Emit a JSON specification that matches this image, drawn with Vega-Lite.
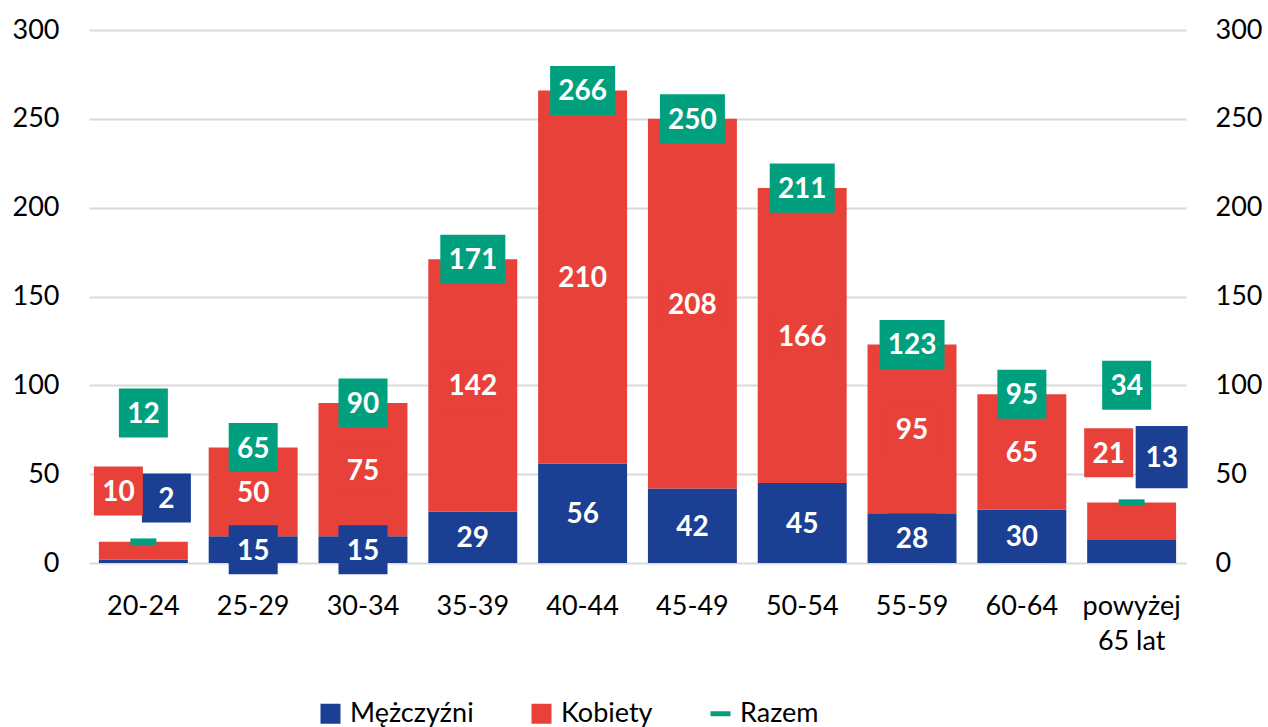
{
  "$schema": "https://vega.github.io/schema/vega-lite/v6.json",
  "width": 1097,
  "height": 533,
  "autosize": {"type": "none"},
  "padding": {"left": 89, "top": 30, "right": 82, "bottom": 164},
  "config": {"font": "Lato", "view": {"stroke": null}},
  "data": {
    "values": [
      {"grupa": "20-24", "Mężczyźni": 2, "Kobiety": 10, "Razem": 12},
      {"grupa": "25-29", "Mężczyźni": 15, "Kobiety": 50, "Razem": 65},
      {"grupa": "30-34", "Mężczyźni": 15, "Kobiety": 75, "Razem": 90},
      {"grupa": "35-39", "Mężczyźni": 29, "Kobiety": 142, "Razem": 171},
      {"grupa": "40-44", "Mężczyźni": 56, "Kobiety": 210, "Razem": 266},
      {"grupa": "45-49", "Mężczyźni": 42, "Kobiety": 208, "Razem": 250},
      {"grupa": "50-54", "Mężczyźni": 45, "Kobiety": 166, "Razem": 211},
      {"grupa": "55-59", "Mężczyźni": 28, "Kobiety": 95, "Razem": 123},
      {"grupa": "60-64", "Mężczyźni": 30, "Kobiety": 65, "Razem": 95},
      {"grupa": "powyżej 65 lat", "Mężczyźni": 13, "Kobiety": 21, "Razem": 34}
    ]
  },
  "resolve": {"axis": {"y": "independent"}, "scale": {"y": "shared"}},
  "encoding": {
    "x": {
      "field": "grupa",
      "type": "nominal",
      "sort": null,
      "title": null,
      "scale": {"paddingInner": 0.19, "paddingOuter": 0.09},
      "axis": {
        "domain": false,
        "ticks": false,
        "tickSize": 0,
        "labelPadding": 30,
        "labelFontSize": 27,
        "labelColor": "#000000",
        "labelAngle": 0,
        "labelLineHeight": 35,
        "labelExpr": "datum.value == 'powyżej 65 lat' ? ['powyżej', '65 lat'] : datum.value"
      }
    }
  },
  "layer": [
    {
      "transform": [{"fold": ["Mężczyźni", "Kobiety"], "as": ["seria", "wartosc"]}],
      "mark": {"type": "bar"},
      "encoding": {
        "y": {
          "field": "wartosc",
          "type": "quantitative",
          "stack": "zero",
          "scale": {"domain": [0, 300], "nice": false},
          "axis": {
            "orient": "left",
            "values": [0, 50, 100, 150, 200, 250, 300],
            "grid": true,
            "gridColor": "#d9d9d9",
            "gridWidth": 2,
            "domain": false,
            "ticks": false,
            "tickSize": 0,
            "labelPadding": 30,
            "labelFontSize": 27,
            "labelColor": "#000000",
            "title": null
          }
        },
        "color": {
          "field": "seria",
          "type": "nominal",
          "scale": {"domain": ["Mężczyźni", "Kobiety", "Razem"], "range": ["#1b3f92", "#e8413a", "#00a07f"]},
          "legend": {
            "orient": "none",
            "legendX": 228,
            "legendY": 670,
            "direction": "horizontal",
            "title": null,
            "labelFontSize": 27,
            "labelColor": "#000000",
            "symbolSize": 400,
            "columnPadding": 54,
            "labelOffset": 6,
            "symbolStrokeWidth": 0
          }
        },
        "order": {"field": "seria", "sort": "descending"}
      }
    },
    {
      "transform": [{"fold": ["Razem"], "as": ["seria", "wartosc"]}],
      "mark": {"type": "point", "filled": true, "size": 676, "opacity": 1},
      "encoding": {
        "y": {
          "field": "wartosc",
          "type": "quantitative",
          "axis": {
            "orient": "right",
            "values": [0, 50, 100, 150, 200, 250, 300],
            "grid": false,
            "domain": false,
            "ticks": false,
            "tickSize": 0,
            "labelPadding": 29,
            "labelFontSize": 27,
            "labelColor": "#000000",
            "title": null
          }
        },
        "color": {"field": "seria", "type": "nominal"},
        "shape": {
          "field": "seria",
          "type": "nominal",
          "scale": {"domain": ["Mężczyźni", "Kobiety", "Razem"], "range": ["square", "square", "M-1,-0.25H1V0.25H-1Z"]}
        }
      }
    },
    {
      "transform": [
        {"fold": ["Mężczyźni", "Kobiety", "Razem"], "as": ["seria", "wartosc"]},
        {"calculate": "datum.seria == 'Mężczyźni' ? (datum.grupa == '20-24' ? 36.6 : datum.grupa == 'powyżej 65 lat' ? 59.6 : datum.wartosc / 2) : datum.seria == 'Kobiety' ? (datum.grupa == '20-24' ? 40.5 : datum.grupa == 'powyżej 65 lat' ? 62 : datum['Mężczyźni'] + datum.wartosc / 2) : (datum.grupa == '20-24' ? 84.4 : datum.grupa == 'powyżej 65 lat' ? 100 : datum.wartosc)", "as": "ly"},
        {"calculate": "44.5 + (datum.seria == 'Mężczyźni' ? (datum.grupa == '20-24' ? 23 : datum.grupa == 'powyżej 65 lat' ? 30 : 0) : datum.seria == 'Kobiety' ? (datum.grupa == '20-24' ? -25 : datum.grupa == 'powyżej 65 lat' ? -23 : 0) : (datum.grupa == 'powyżej 65 lat' ? -5 : 0))", "as": "lx"},
        {"calculate": "(datum.seria == 'Mężczyźni' && datum.grupa == 'powyżej 65 lat') ? 17.5 : 13.8", "as": "bh"},
        {"calculate": "(datum.seria == 'Mężczyźni' && datum.grupa == 'powyżej 65 lat') ? 52 : (datum.wartosc >= 100 ? 65 : 49)", "as": "bw"},
        {"calculate": "datum.ly - datum.bh", "as": "by1"},
        {"calculate": "datum.ly + datum.bh", "as": "by2"}
      ],
      "layer": [
        {
          "mark": {"type": "bar", "clip": false},
          "encoding": {
            "xOffset": {"field": "lx", "type": "quantitative", "scale": null},
            "y": {"field": "by1", "type": "quantitative", "axis": null},
            "y2": {"field": "by2"},
            "size": {"field": "bw", "type": "quantitative", "scale": null, "legend": null},
            "color": {"field": "seria", "type": "nominal", "legend": null}
          }
        },
        {
          "mark": {"type": "text", "fontWeight": "bold", "fontSize": 28, "color": "#ffffff", "baseline": "middle", "align": "center", "dy": 2},
          "encoding": {
            "xOffset": {"field": "lx", "type": "quantitative", "scale": null},
            "y": {"field": "ly", "type": "quantitative", "axis": null},
            "text": {"field": "wartosc", "type": "quantitative"}
          }
        }
      ]
    }
  ]
}
